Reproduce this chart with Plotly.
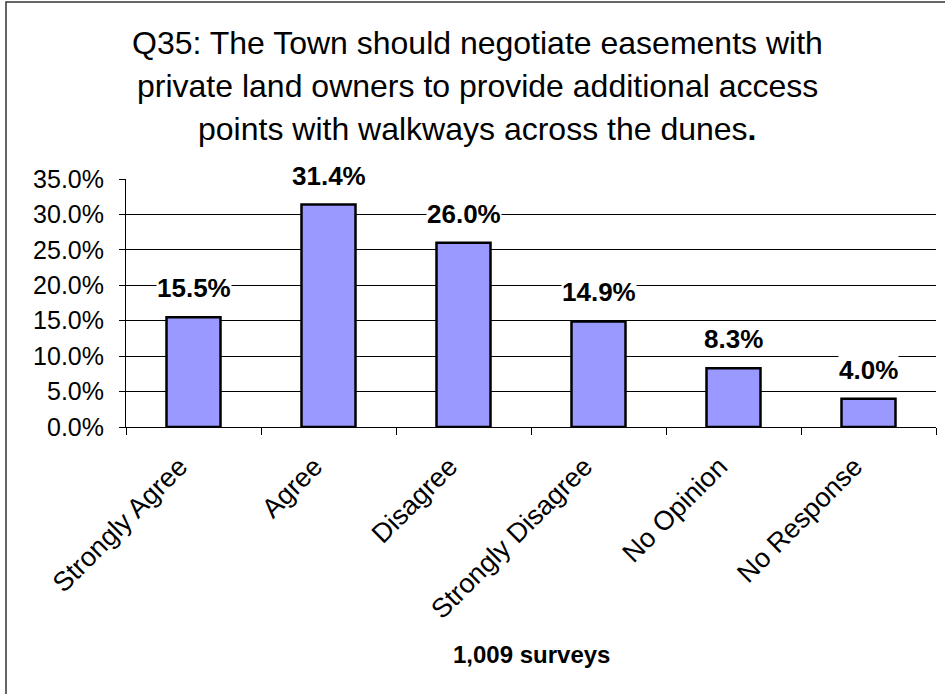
import plotly.graph_objects as go

categories = ["Strongly Agree", "Agree", "Disagree", "Strongly Disagree", "No Opinion", "No Response"]
values = [15.5, 31.4, 26.0, 14.9, 8.3, 4.0]
title_lines = [
    "Q35: The Town should negotiate easements with",
    "private land owners to provide additional access",
    "points with walkways across the dunes<b>.</b>",
]
x_title = "1,009 surveys"
y_ticks = [0, 5, 10, 15, 20, 25, 30, 35]

FONT = "Liberation Sans, Arial, sans-serif"
W, H = 945, 694
L, R, T, B = 126, 9, 179, 267
pw, ph = W - L - R, H - T - B

def px_x(p):
    return (p - L) / pw

def px_y(p):
    return (H - B - p) / ph

fig = go.Figure()
fig.add_trace(go.Bar(
    x=categories, y=values,
    marker=dict(color="#9999FF", line=dict(color="black", width=2.5)),
    width=0.4,
    hoverinfo="skip",
))

annotations = []
for c, v in zip(categories, values):
    annotations.append(dict(
        x=c, y=v, xref="x", yref="y", text=f"<b>{v:.1f}%</b>",
        showarrow=False, yanchor="middle", yshift=29,
        font=dict(family=FONT, size=26, color="black"),
        bgcolor="white", borderpad=0,
    ))

title_y = [43, 86, 129]
for line, yy in zip(title_lines, title_y):
    annotations.append(dict(
        x=px_x(477), y=px_y(yy), xref="paper", yref="paper", text=line,
        showarrow=False, xanchor="center", yanchor="middle",
        font=dict(family=FONT, size=32, color="black"),
    ))

annotations.append(dict(
    x=0.5, y=px_y(654), xref="paper", yref="paper", text=f"<b>{x_title}</b>",
    showarrow=False, xanchor="center", yanchor="middle",
    font=dict(family=FONT, size=24, color="black"),
))

fig.update_layout(
    width=W, height=H,
    margin=dict(l=L, r=R, t=T, b=B, pad=0),
    paper_bgcolor="white", plot_bgcolor="white",
    showlegend=False,
    bargap=0.6,
    annotations=annotations,
    shapes=[dict(
        type="rect", xref="paper", yref="paper",
        x0=px_x(6), x1=px_x(1100), y0=px_y(900), y1=px_y(2),
        line=dict(color="#333333", width=1.5), fillcolor="rgba(0,0,0,0)",
        layer="below",
    )],
    xaxis=dict(
        type="category", automargin=False,
        tickson="boundaries", ticks="outside", ticklen=7, tickcolor="black", tickwidth=1,
        tickangle=-45, ticklabelstandoff=12, ticklabelshift=-14,
        tickfont=dict(family=FONT, size=27, color="black"),
        showline=True, linecolor="black", linewidth=1,
        showgrid=False, zeroline=False,
        fixedrange=True,
    ),
    yaxis=dict(
        range=[0, 35], automargin=False,
        tickvals=y_ticks,
        ticktext=[f"{t:.1f}%" for t in y_ticks],
        ticks="outside", ticklen=6, tickcolor="black", tickwidth=1,
        ticklabelstandoff=10,
        tickfont=dict(family=FONT, size=25, color="black"),
        showline=True, linecolor="black", linewidth=1,
        showgrid=True, gridcolor="black", gridwidth=1,
        zeroline=False,
        fixedrange=True,
    ),
)

fig.write_html(
    "out.html",
    config={"displayModeBar": False},
    post_script="document.body.style.margin='0';",
)
